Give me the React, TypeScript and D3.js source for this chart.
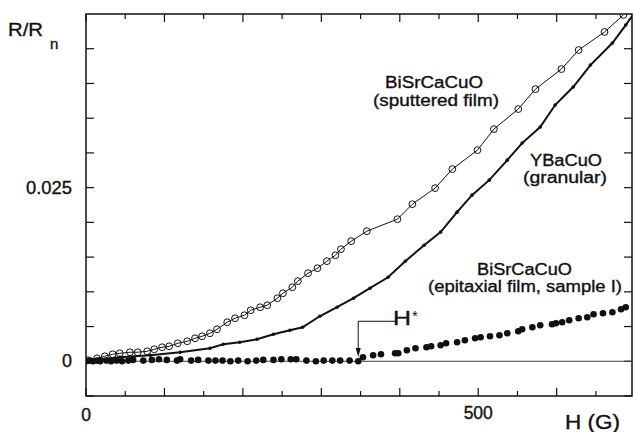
import React from "react";
import * as d3 from "d3";

// ---- data ----
const H_SPUT = [2.6, 14, 24, 34, 43, 56, 66, 78, 87, 97, 106, 117, 129, 139, 148, 158, 167, 180, 190, 202, 210, 222, 231, 244, 251, 263, 270, 283, 295, 307, 318, 325, 338, 358, 397, 416, 445, 467, 499, 520, 551, 573, 606, 628, 661, 685];
const R_SPUT = [0.00014, 0.00043, 0.00072, 0.00101, 0.00115, 0.0013, 0.0013, 0.00144, 0.00173, 0.00202, 0.00216, 0.00259, 0.00288, 0.00331, 0.0036, 0.00403, 0.00461, 0.00562, 0.0062, 0.00663, 0.00735, 0.00778, 0.00807, 0.00908, 0.0098, 0.01066, 0.01153, 0.01268, 0.0134, 0.01441, 0.01527, 0.01614, 0.01729, 0.01873, 0.02046, 0.02262, 0.02493, 0.02767, 0.0304, 0.03343, 0.03631, 0.03919, 0.04207, 0.04481, 0.04741, 0.04986];

const H_YBCO = [0, 18, 43, 82, 120, 158, 175, 196, 218, 239, 260, 276, 298, 320, 341, 362, 385, 407, 431, 452, 473, 492, 514, 537, 556, 579, 598, 621, 643, 671, 688, 698];
const R_YBCO = [0, 0.00029, 0.00058, 0.00086, 0.0013, 0.00187, 0.00245, 0.00274, 0.00317, 0.00389, 0.00447, 0.0049, 0.00648, 0.00778, 0.00908, 0.01052, 0.0121, 0.01441, 0.01671, 0.01859, 0.02147, 0.02392, 0.02608, 0.02896, 0.03141, 0.03372, 0.03689, 0.03948, 0.04265, 0.04582, 0.04841, 0.05];

const H_EPI = [0, 5, 9, 14, 18, 26, 32, 39, 46, 54, 60, 73, 84, 93, 103, 116, 120, 134, 143, 156, 165, 174, 184, 194, 206, 217, 226, 239, 249, 261, 268, 281, 293, 303, 314, 324, 336, 347,
  353, 366, 376, 394, 398, 409, 420, 434, 440, 452, 459, 473, 483, 496, 503, 515, 527, 537, 551, 556, 569, 579, 594, 599, 607, 616, 628, 639, 647, 659, 671, 682, 688];
const R_EPI = [0, 0.0001, 0, 0.0001, 0, 0.0001, 0, 0.0001, 0, 0.0001, 0.0002, 0.0001, 0.0002, 0.0003, 0.0002, 0.0001, 0.0003, 0.0001, 0.0002, 0.0001, 0.0001, 0.0001, 0, 0.0001, 0, 0.0001, 0.0002, 0.0002, 0.0003, 0.0003, 0.0003, 0.0001, 0, 0.0001, 0.0001, 0.0001, 0.0001, 0,
  0.00058, 0.00086, 0.00101, 0.00115, 0.00115, 0.00159, 0.00187, 0.00202, 0.00216, 0.00231, 0.00259, 0.00274, 0.00303, 0.00331, 0.00346, 0.0036, 0.00375, 0.00403, 0.00432, 0.00461, 0.0049, 0.00519, 0.00533, 0.00548, 0.00562, 0.00591, 0.0062, 0.00634, 0.00677, 0.00692, 0.00706, 0.00749, 0.00778];

const X_TICKS = [0, 50, 100, 150, 200, 250, 300, 350, 400, 450, 500, 550, 600, 650];
const Y_TICKS = [-0.005, 0, 0.005, 0.01, 0.015, 0.02, 0.025, 0.03, 0.035, 0.04, 0.045];
const X_LABELS = [0, 500];
const Y_LABELS = [0, 0.025];
const H_STAR = 347;

const FONT = "'Liberation Sans', Arial, Helvetica, sans-serif";
const INK = "#111";
const TS = { stroke: INK, strokeWidth: 0.35 };

export default function App() {
  const W = 634, H = 432;
  const x = d3.scaleLinear().domain([0, 696]).range([86, 632]);
  const y = d3.scaleLinear().domain([-0.005, 0.05]).range([396, 14]);
  const x0 = x.range()[0], x1 = x.range()[1];
  const yb = y.range()[0], yt = y.range()[1];

  const sput = H_SPUT.map((h, i) => [h, R_SPUT[i]] as [number, number]);
  const ybco = H_YBCO.map((h, i) => [h, R_YBCO[i]] as [number, number]);
  const epi = H_EPI.map((h, i) => [h, R_EPI[i]] as [number, number]);

  const line = d3.line<[number, number]>().x((d) => x(d[0])).y((d) => y(d[1]));

  const ax = x(H_STAR);
  const ayTop = y(0.00576);
  const ayTip = y(0.0006);

  return (
    <svg width={W} height={H} style={{ position: "absolute", left: 0, top: 0, background: "#fff" }} fontFamily={FONT}>
      <defs>
        <clipPath id="plot">
          <rect x={x0} y={yt} width={x1 - x0} height={yb - yt} />
        </clipPath>
      </defs>
      {/* frame */}
      <rect x={x0} y={yt} width={x1 - x0} height={yb - yt} fill="none" stroke={INK} strokeWidth={1.5} />
      {/* ticks */}
      {X_TICKS.map((t) => {
        const len = t % 100 === 0 ? 8 : 5;
        return (
          <g key={"xt" + t}>
            <line x1={x(t)} x2={x(t)} y1={yb} y2={yb - len} stroke={INK} strokeWidth={1.2} />
            <line x1={x(t)} x2={x(t)} y1={yt} y2={yt + len} stroke={INK} strokeWidth={1.2} />
          </g>
        );
      })}
      {Y_TICKS.map((t) => (
        <g key={"yt" + t}>
          <line x1={x0} x2={x0 + 8} y1={y(t)} y2={y(t)} stroke={INK} strokeWidth={1.2} />
          <line x1={x1} x2={x1 - 8} y1={y(t)} y2={y(t)} stroke={INK} strokeWidth={1.2} />
        </g>
      ))}
      {/* zero line */}
      <line x1={x0} x2={x1} y1={y(0)} y2={y(0)} stroke="#444" strokeWidth={1} />

      <g clipPath="url(#plot)">
        {/* sputtered film */}
        <path d={line(sput) || ""} fill="none" stroke={INK} strokeWidth={1} />
        {sput.map((d, i) => (
          <circle key={"s" + i} cx={x(d[0])} cy={y(d[1])} r={3.4} fill="none" stroke={INK} strokeWidth={1} />
        ))}
        {/* YBaCuO */}
        <path d={line(ybco) || ""} fill="none" stroke={INK} strokeWidth={2} />
        {ybco.map((d, i) => (
          <circle key={"y" + i} cx={x(d[0])} cy={y(d[1])} r={1.8} fill={INK} />
        ))}
        {/* epitaxial */}
        {epi.map((d, i) => (
          <circle key={"e" + i} cx={x(d[0])} cy={y(d[1])} r={3.3} fill={INK} />
        ))}
      </g>

      {/* H* annotation */}
      <path d={`M${x(H_STAR + 48)},${ayTop} L${ax},${ayTop} L${ax},${ayTip - 6}`} fill="none" stroke={INK} strokeWidth={1} />
      <path d={`M${ax - 2.5},${ayTip - 9} L${ax + 2.5},${ayTip - 9} L${ax},${ayTip} Z`} fill={INK} />
      <text x={393} y={325} fontSize={20} textLength={18} lengthAdjust="spacingAndGlyphs" fill={INK} {...TS}>H</text>
      <text x={412} y={321} fontSize={15} fill={INK}>*</text>

      {/* axis labels */}
      <text x={8} y={36} fontSize={19} textLength={35} lengthAdjust="spacingAndGlyphs" fill={INK} {...TS}>R/R</text>
      <text x={50} y={49} fontSize={15} fill={INK} {...TS}>n</text>
      {Y_LABELS.map((t) => (
        <text key={"yl" + t} x={72} y={y(t) + 6} fontSize={17.5} textAnchor="end" fill={INK} {...TS}
          textLength={t === 0 ? 10 : 46} lengthAdjust="spacingAndGlyphs">
          {t === 0 ? "0" : String(t)}
        </text>
      ))}
      {X_LABELS.map((t) => (
        <text key={"xl" + t} x={x(t)} y={t === 0 ? 421 : 419} fontSize={17.5} textAnchor="middle" fill={INK} {...TS}>
          {String(t)}
        </text>
      ))}
      <text x={565} y={429} fontSize={19.5} textLength={55} lengthAdjust="spacingAndGlyphs" fill={INK} {...TS}>H (G)</text>

      {/* series labels */}
      <text x={385} y={88} fontSize={16} textLength={98} lengthAdjust="spacingAndGlyphs" fill={INK} {...TS}>BiSrCaCuO</text>
      <text x={373} y={106} fontSize={16} textLength={126} lengthAdjust="spacingAndGlyphs" fill={INK} {...TS}>(sputtered film)</text>
      <text x={530} y={166} fontSize={16} textLength={72} lengthAdjust="spacingAndGlyphs" fill={INK} {...TS}>YBaCuO</text>
      <text x={523} y={183} fontSize={16} textLength={84} lengthAdjust="spacingAndGlyphs" fill={INK} {...TS}>(granular)</text>
      <text x={477} y={275} fontSize={16} textLength={95} lengthAdjust="spacingAndGlyphs" fill={INK} {...TS}>BiSrCaCuO</text>
      <text x={428} y={292} fontSize={16} textLength={194} lengthAdjust="spacingAndGlyphs" fill={INK} {...TS}>(epitaxial film, sample I)</text>
    </svg>
  );
}
